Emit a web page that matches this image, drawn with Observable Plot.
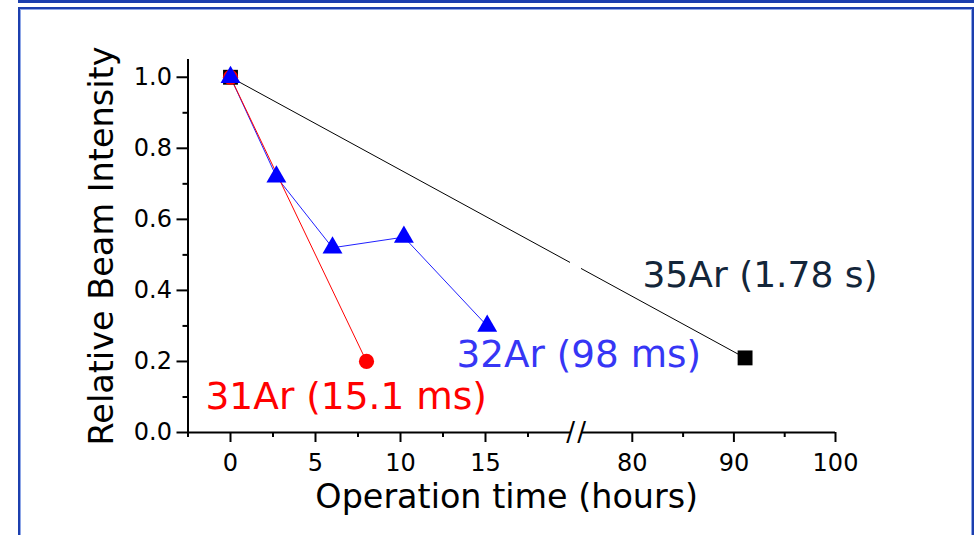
<!DOCTYPE html>
<html>
<head>
<meta charset="utf-8">
<script src="https://cdn.jsdelivr.net/npm/d3@7"></script>
<script src="https://cdn.jsdelivr.net/npm/@observablehq/plot@0.6"></script>
<style>
  html, body { margin: 0; padding: 0; background: #fff; }
  #wrap { position: relative; width: 977px; height: 535px; overflow: hidden; background: #fff; }
  .box-top { position: absolute; left: 18px; top: -30px; width: 956px; height: 33px; box-sizing: border-box;
             border: 2px solid #1c3fae; border-bottom-width: 3px; }
  .box-main { position: absolute; left: 18px; top: 7px; width: 956px; height: 580px; box-sizing: border-box;
              border: 2px solid #1c3fae; box-shadow: inset 0 0 0 1px #8ea6e6; }
  #chart { position: absolute; left: 0; top: 0; }
</style>
</head>
<body>
<div id="wrap">
  <div class="box-top"></div>
  <div class="box-main"></div>
  <div id="chart"></div>
</div>
<script>
// ---- data ----
const hours31 = [0, 8.0];
const intensity31 = [1.0, 0.20];
const hours32 = [0, 2.7, 6.0, 10.2, 15.1];
const intensity32 = [1.0, 0.72, 0.52, 0.55, 0.30];
const hours35 = [0, 91.1];
const intensity35 = [1.0, 0.21];

const seriesNames = ["31Ar (15.1 ms)", "32Ar (98 ms)", "35Ar (1.78 s)"];
const labelHours = [-1.47, 13.3, 81.0];
const labelIntensity = [0.101, 0.217, 0.442];

const yMajorTicks = [0, 0.2, 0.4, 0.6, 0.8, 1.0];
const yMinorTicks = [0.1, 0.3, 0.5, 0.7, 0.9];
const xMajorTicks = [0, 5, 10, 15, 80, 90, 100];
const xMinorTicks = [-2.5, 2.5, 7.5, 12.5, 17.5, 85, 95];
const xDomain = [-2.5, 20, 75, 100];   // broken axis: 20 .. 75 skipped
const yDomain = [0, 1.05];
const xTitle = "Operation time (hours)";
const yTitle = "Relative Beam Intensity";

// ---- tables built from the arrays ----
const s31 = hours31.map((h, i) => ({hours: h, intensity: intensity31[i]}));
const s32 = hours32.map((h, i) => ({hours: h, intensity: intensity32[i]}));
const s35 = hours35.map((h, i) => ({hours: h, intensity: intensity35[i]}));
const labels = seriesNames.map((t, i) => ({text: t, hours: labelHours[i], intensity: labelIntensity[i]}));
const axisSegments = [[xDomain[0], xDomain[1]], [xDomain[2], xDomain[3]]];
const breakGap = [[xDomain[1], xDomain[2]]];
const breakMarks = [xDomain[1], xDomain[2]];

const chart = Plot.plot({
  width: 977,
  height: 535,
  marginTop: 59,
  marginBottom: 103,
  marginLeft: 187.5,
  marginRight: 142,
  x: {type: "linear", domain: xDomain, range: [187.5, 570, 581, 835]},
  y: {type: "linear", domain: yDomain},
  style: {fontFamily: "'DejaVu Sans', sans-serif", fontSize: "24px", color: "black", background: "transparent", overflow: "visible"},
  marks: [
    // connecting lines
    Plot.line(s35, {x: "hours", y: "intensity", stroke: "#000000", strokeWidth: 1}),
    Plot.line(s32, {x: "hours", y: "intensity", stroke: "#2020ff", strokeWidth: 1}),
    Plot.line(s31, {x: "hours", y: "intensity", stroke: "#ff0000", strokeWidth: 1}),
    // gap of the broken axis
    Plot.rect(breakGap, {x1: d => d[0], x2: d => d[1], fill: "white"}),
    // axis lines
    Plot.ruleX([xDomain[0]], {y1: yDomain[0], y2: yDomain[1], stroke: "black", strokeWidth: 2}),
    Plot.ruleY(axisSegments, {y: 0, x1: d => d[0], x2: d => d[1], stroke: "black", strokeWidth: 2}),
    // axis ticks
    Plot.axisY({ticks: yMajorTicks, tickSize: 11, tickPadding: 5, tickFormat: d3.format(".1f"), fontSize: 24, strokeWidth: 2, label: null}),
    Plot.axisY({ticks: yMinorTicks, tickSize: 5, tickFormat: () => "", strokeWidth: 2, label: null}),
    Plot.axisX({ticks: xMajorTicks, tickSize: 10, tickPadding: 11, tickFormat: d3.format("d"), fontSize: 24, strokeWidth: 2, label: null}),
    Plot.axisX({ticks: xMinorTicks, tickSize: 5, tickFormat: () => "", strokeWidth: 2, label: null}),
    // break marks
    Plot.text(breakMarks, {x: d => d, y: 0, text: () => "/", fontSize: 26, textAnchor: "middle", lineAnchor: "middle", fill: "black"}),
    // markers
    Plot.dot(s35, {x: "hours", y: "intensity", symbol: "square", r: 8.4, fill: "#000000", stroke: "none"}),
    Plot.dot(s31, {x: "hours", y: "intensity", symbol: "circle", r: 7.6, fill: "#ff0000", stroke: "none"}),
    Plot.dot(s32, {x: "hours", y: "intensity", symbol: "triangle", r: 7.4, fill: "#0000ff", stroke: "none"}),
    // series labels
    Plot.text([labels[0]], {x: "hours", y: "intensity", text: "text", textAnchor: "start", lineAnchor: "middle", fontSize: 37.5, fill: "#ff0000"}),
    Plot.text([labels[1]], {x: "hours", y: "intensity", text: "text", textAnchor: "start", lineAnchor: "middle", fontSize: 37.3, fill: "#3636f5"}),
    Plot.text([labels[2]], {x: "hours", y: "intensity", text: "text", textAnchor: "start", lineAnchor: "middle", fontSize: 36, fill: "#13263a"}),
    // axis titles
    Plot.text([xTitle], {frameAnchor: "bottom", text: d => d, textAnchor: "middle", lineAnchor: "middle", dx: -5, dy: 64.3, fontSize: 33.4, fill: "black"}),
    Plot.text([yTitle], {frameAnchor: "left", text: d => d, textAnchor: "middle", lineAnchor: "middle", rotate: -90, dx: -86, fontSize: 33.5, fill: "black"})
  ]
});
document.getElementById("chart").appendChild(chart);
</script>
</body>
</html>
